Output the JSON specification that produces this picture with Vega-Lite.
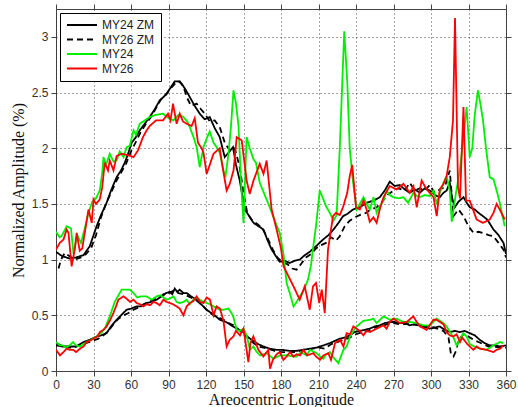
{
"$schema": "https://vega.github.io/schema/vega-lite/v6.json",
"width": 450, "height": 362,
"autosize": {"type": "none"},
"padding": {"left": 56, "top": 9, "right": 12, "bottom": 36},
"background": "white",
"config": {"view": {"stroke": "#444", "strokeWidth": 1}},
"datasets": {
"d": [
{"s":"MY24 ZM","b":"u","x":0,"y":1.07},{"s":"MY24 ZM","b":"u","x":5,"y":1.03},{"s":"MY24 ZM","b":"u","x":11,"y":1.01},{"s":"MY24 ZM","b":"u","x":16,"y":1.02},{"s":"MY24 ZM","b":"u","x":22,"y":1.04},{"s":"MY24 ZM","b":"u","x":27,"y":1.12},{"s":"MY24 ZM","b":"u","x":32.5,"y":1.3},{"s":"MY24 ZM","b":"u","x":36,"y":1.4},{"s":"MY24 ZM","b":"u","x":40.5,"y":1.51},{"s":"MY24 ZM","b":"u","x":44,"y":1.62},{"s":"MY24 ZM","b":"u","x":48.5,"y":1.74},{"s":"MY24 ZM","b":"u","x":52,"y":1.8},{"s":"MY24 ZM","b":"u","x":55,"y":1.87},{"s":"MY24 ZM","b":"u","x":58,"y":1.96},{"s":"MY24 ZM","b":"u","x":60.5,"y":2.05},{"s":"MY24 ZM","b":"u","x":64,"y":2.1},{"s":"MY24 ZM","b":"u","x":67,"y":2.16},{"s":"MY24 ZM","b":"u","x":71,"y":2.22},{"s":"MY24 ZM","b":"u","x":75,"y":2.28},{"s":"MY24 ZM","b":"u","x":79,"y":2.35},{"s":"MY24 ZM","b":"u","x":83,"y":2.43},{"s":"MY24 ZM","b":"u","x":86,"y":2.46},{"s":"MY24 ZM","b":"u","x":88.5,"y":2.49},{"s":"MY24 ZM","b":"u","x":92,"y":2.55},{"s":"MY24 ZM","b":"u","x":95,"y":2.6},{"s":"MY24 ZM","b":"u","x":98,"y":2.6},{"s":"MY24 ZM","b":"u","x":100.5,"y":2.58},{"s":"MY24 ZM","b":"u","x":104,"y":2.52},{"s":"MY24 ZM","b":"u","x":107,"y":2.46},{"s":"MY24 ZM","b":"u","x":111,"y":2.38},{"s":"MY24 ZM","b":"u","x":115,"y":2.31},{"s":"MY24 ZM","b":"u","x":119,"y":2.26},{"s":"MY24 ZM","b":"u","x":123,"y":2.28},{"s":"MY24 ZM","b":"u","x":127,"y":2.18},{"s":"MY24 ZM","b":"u","x":131,"y":2.1},{"s":"MY24 ZM","b":"u","x":135,"y":1.92},{"s":"MY24 ZM","b":"u","x":138,"y":1.96},{"s":"MY24 ZM","b":"u","x":141.6,"y":2.01},{"s":"MY24 ZM","b":"u","x":144,"y":1.85},{"s":"MY24 ZM","b":"u","x":147,"y":1.71},{"s":"MY24 ZM","b":"u","x":151,"y":1.45},{"s":"MY24 ZM","b":"u","x":154,"y":1.4},{"s":"MY24 ZM","b":"u","x":158,"y":1.33},{"s":"MY24 ZM","b":"u","x":162,"y":1.3},{"s":"MY24 ZM","b":"u","x":166,"y":1.27},{"s":"MY24 ZM","b":"u","x":169,"y":1.18},{"s":"MY24 ZM","b":"u","x":172.5,"y":1.09},{"s":"MY24 ZM","b":"u","x":176,"y":1.03},{"s":"MY24 ZM","b":"u","x":179,"y":0.98},{"s":"MY24 ZM","b":"u","x":183,"y":0.99},{"s":"MY24 ZM","b":"u","x":187,"y":0.97},{"s":"MY24 ZM","b":"u","x":191,"y":0.99},{"s":"MY24 ZM","b":"u","x":195,"y":1.0},{"s":"MY24 ZM","b":"u","x":199,"y":1.04},{"s":"MY24 ZM","b":"u","x":203,"y":1.07},{"s":"MY24 ZM","b":"u","x":208,"y":1.12},{"s":"MY24 ZM","b":"u","x":213.6,"y":1.18},{"s":"MY24 ZM","b":"u","x":218,"y":1.22},{"s":"MY24 ZM","b":"u","x":222,"y":1.27},{"s":"MY24 ZM","b":"u","x":226,"y":1.33},{"s":"MY24 ZM","b":"u","x":229.6,"y":1.39},{"s":"MY24 ZM","b":"u","x":233,"y":1.41},{"s":"MY24 ZM","b":"u","x":237.6,"y":1.45},{"s":"MY24 ZM","b":"u","x":243,"y":1.47},{"s":"MY24 ZM","b":"u","x":248.5,"y":1.51},{"s":"MY24 ZM","b":"u","x":254,"y":1.53},{"s":"MY24 ZM","b":"u","x":259,"y":1.56},{"s":"MY24 ZM","b":"u","x":263,"y":1.62},{"s":"MY24 ZM","b":"u","x":267,"y":1.7},{"s":"MY24 ZM","b":"u","x":271,"y":1.66},{"s":"MY24 ZM","b":"u","x":275,"y":1.67},{"s":"MY24 ZM","b":"u","x":279,"y":1.63},{"s":"MY24 ZM","b":"u","x":283,"y":1.6},{"s":"MY24 ZM","b":"u","x":287,"y":1.63},{"s":"MY24 ZM","b":"u","x":291,"y":1.6},{"s":"MY24 ZM","b":"u","x":295,"y":1.64},{"s":"MY24 ZM","b":"u","x":299,"y":1.62},{"s":"MY24 ZM","b":"u","x":303,"y":1.58},{"s":"MY24 ZM","b":"u","x":307,"y":1.56},{"s":"MY24 ZM","b":"u","x":310,"y":1.6},{"s":"MY24 ZM","b":"u","x":312.5,"y":1.62},{"s":"MY24 ZM","b":"u","x":315,"y":1.69},{"s":"MY24 ZM","b":"u","x":317,"y":1.55},{"s":"MY24 ZM","b":"u","x":319,"y":1.47},{"s":"MY24 ZM","b":"u","x":322,"y":1.52},{"s":"MY24 ZM","b":"u","x":326,"y":1.56},{"s":"MY24 ZM","b":"u","x":328,"y":1.52},{"s":"MY24 ZM","b":"u","x":331,"y":1.47},{"s":"MY24 ZM","b":"u","x":335,"y":1.45},{"s":"MY24 ZM","b":"u","x":338,"y":1.42},{"s":"MY24 ZM","b":"u","x":341.6,"y":1.39},{"s":"MY24 ZM","b":"u","x":345,"y":1.36},{"s":"MY24 ZM","b":"u","x":350,"y":1.27},{"s":"MY24 ZM","b":"u","x":354,"y":1.22},{"s":"MY24 ZM","b":"u","x":358,"y":1.15},{"s":"MY24 ZM","b":"u","x":360,"y":1.05},

{"s":"MY24 ZM","b":"l","x":0,"y":0.23},{"s":"MY24 ZM","b":"l","x":5,"y":0.22},{"s":"MY24 ZM","b":"l","x":11,"y":0.22},{"s":"MY24 ZM","b":"l","x":16,"y":0.22},{"s":"MY24 ZM","b":"l","x":22,"y":0.26},{"s":"MY24 ZM","b":"l","x":27,"y":0.28},{"s":"MY24 ZM","b":"l","x":32.5,"y":0.31},{"s":"MY24 ZM","b":"l","x":36,"y":0.32},{"s":"MY24 ZM","b":"l","x":40.5,"y":0.34},{"s":"MY24 ZM","b":"l","x":44,"y":0.4},{"s":"MY24 ZM","b":"l","x":48.5,"y":0.46},{"s":"MY24 ZM","b":"l","x":52,"y":0.5},{"s":"MY24 ZM","b":"l","x":56.5,"y":0.55},{"s":"MY24 ZM","b":"l","x":60,"y":0.56},{"s":"MY24 ZM","b":"l","x":64.5,"y":0.58},{"s":"MY24 ZM","b":"l","x":68,"y":0.58},{"s":"MY24 ZM","b":"l","x":72.5,"y":0.61},{"s":"MY24 ZM","b":"l","x":76,"y":0.62},{"s":"MY24 ZM","b":"l","x":80.5,"y":0.64},{"s":"MY24 ZM","b":"l","x":83,"y":0.66},{"s":"MY24 ZM","b":"l","x":86,"y":0.68},{"s":"MY24 ZM","b":"l","x":88,"y":0.7},{"s":"MY24 ZM","b":"l","x":91,"y":0.71},{"s":"MY24 ZM","b":"l","x":93,"y":0.69},{"s":"MY24 ZM","b":"l","x":95,"y":0.74},{"s":"MY24 ZM","b":"l","x":97,"y":0.71},{"s":"MY24 ZM","b":"l","x":99,"y":0.73},{"s":"MY24 ZM","b":"l","x":102,"y":0.7},{"s":"MY24 ZM","b":"l","x":104.6,"y":0.7},{"s":"MY24 ZM","b":"l","x":108,"y":0.67},{"s":"MY24 ZM","b":"l","x":112.5,"y":0.64},{"s":"MY24 ZM","b":"l","x":116,"y":0.6},{"s":"MY24 ZM","b":"l","x":120.5,"y":0.55},{"s":"MY24 ZM","b":"l","x":123,"y":0.53},{"s":"MY24 ZM","b":"l","x":127,"y":0.5},{"s":"MY24 ZM","b":"l","x":131,"y":0.46},{"s":"MY24 ZM","b":"l","x":136,"y":0.44},{"s":"MY24 ZM","b":"l","x":141.6,"y":0.4},{"s":"MY24 ZM","b":"l","x":145,"y":0.38},{"s":"MY24 ZM","b":"l","x":149.6,"y":0.35},{"s":"MY24 ZM","b":"l","x":153,"y":0.31},{"s":"MY24 ZM","b":"l","x":157.6,"y":0.27},{"s":"MY24 ZM","b":"l","x":162,"y":0.24},{"s":"MY24 ZM","b":"l","x":166,"y":0.22},{"s":"MY24 ZM","b":"l","x":171,"y":0.2},{"s":"MY24 ZM","b":"l","x":176.5,"y":0.19},{"s":"MY24 ZM","b":"l","x":181,"y":0.19},{"s":"MY24 ZM","b":"l","x":187,"y":0.18},{"s":"MY24 ZM","b":"l","x":192,"y":0.18},{"s":"MY24 ZM","b":"l","x":197.6,"y":0.19},{"s":"MY24 ZM","b":"l","x":203,"y":0.2},{"s":"MY24 ZM","b":"l","x":208.6,"y":0.21},{"s":"MY24 ZM","b":"l","x":214,"y":0.23},{"s":"MY24 ZM","b":"l","x":219,"y":0.25},{"s":"MY24 ZM","b":"l","x":223,"y":0.27},{"s":"MY24 ZM","b":"l","x":227,"y":0.29},{"s":"MY24 ZM","b":"l","x":231,"y":0.3},{"s":"MY24 ZM","b":"l","x":235,"y":0.32},{"s":"MY24 ZM","b":"l","x":239,"y":0.35},{"s":"MY24 ZM","b":"l","x":243,"y":0.36},{"s":"MY24 ZM","b":"l","x":247,"y":0.37},{"s":"MY24 ZM","b":"l","x":251,"y":0.38},{"s":"MY24 ZM","b":"l","x":255,"y":0.4},{"s":"MY24 ZM","b":"l","x":259,"y":0.41},{"s":"MY24 ZM","b":"l","x":263,"y":0.43},{"s":"MY24 ZM","b":"l","x":267,"y":0.44},{"s":"MY24 ZM","b":"l","x":271,"y":0.44},{"s":"MY24 ZM","b":"l","x":275,"y":0.43},{"s":"MY24 ZM","b":"l","x":279,"y":0.43},{"s":"MY24 ZM","b":"l","x":283,"y":0.41},{"s":"MY24 ZM","b":"l","x":287,"y":0.42},{"s":"MY24 ZM","b":"l","x":291,"y":0.41},{"s":"MY24 ZM","b":"l","x":295,"y":0.4},{"s":"MY24 ZM","b":"l","x":299,"y":0.38},{"s":"MY24 ZM","b":"l","x":303,"y":0.39},{"s":"MY24 ZM","b":"l","x":307,"y":0.4},{"s":"MY24 ZM","b":"l","x":311,"y":0.37},{"s":"MY24 ZM","b":"l","x":315,"y":0.35},{"s":"MY24 ZM","b":"l","x":319,"y":0.36},{"s":"MY24 ZM","b":"l","x":323,"y":0.35},{"s":"MY24 ZM","b":"l","x":327,"y":0.36},{"s":"MY24 ZM","b":"l","x":331,"y":0.34},{"s":"MY24 ZM","b":"l","x":335,"y":0.32},{"s":"MY24 ZM","b":"l","x":339,"y":0.28},{"s":"MY24 ZM","b":"l","x":343,"y":0.25},{"s":"MY24 ZM","b":"l","x":347,"y":0.23},{"s":"MY24 ZM","b":"l","x":351,"y":0.23},{"s":"MY24 ZM","b":"l","x":355,"y":0.22},{"s":"MY24 ZM","b":"l","x":360,"y":0.23},

{"s":"MY26 ZM","b":"u","x":2,"y":0.92},{"s":"MY26 ZM","b":"u","x":4,"y":1.0},{"s":"MY26 ZM","b":"u","x":7,"y":1.06},{"s":"MY26 ZM","b":"u","x":11,"y":1.03},{"s":"MY26 ZM","b":"u","x":15,"y":1.0},{"s":"MY26 ZM","b":"u","x":20,"y":1.02},{"s":"MY26 ZM","b":"u","x":24,"y":1.05},{"s":"MY26 ZM","b":"u","x":28,"y":1.1},{"s":"MY26 ZM","b":"u","x":32,"y":1.22},{"s":"MY26 ZM","b":"u","x":36,"y":1.38},{"s":"MY26 ZM","b":"u","x":40,"y":1.5},{"s":"MY26 ZM","b":"u","x":44,"y":1.6},{"s":"MY26 ZM","b":"u","x":48,"y":1.7},{"s":"MY26 ZM","b":"u","x":52,"y":1.78},{"s":"MY26 ZM","b":"u","x":56,"y":1.86},{"s":"MY26 ZM","b":"u","x":60,"y":1.97},{"s":"MY26 ZM","b":"u","x":64,"y":2.06},{"s":"MY26 ZM","b":"u","x":68,"y":2.15},{"s":"MY26 ZM","b":"u","x":72,"y":2.22},{"s":"MY26 ZM","b":"u","x":76,"y":2.28},{"s":"MY26 ZM","b":"u","x":80,"y":2.36},{"s":"MY26 ZM","b":"u","x":84,"y":2.44},{"s":"MY26 ZM","b":"u","x":88,"y":2.48},{"s":"MY26 ZM","b":"u","x":92,"y":2.54},{"s":"MY26 ZM","b":"u","x":96,"y":2.59},{"s":"MY26 ZM","b":"u","x":99,"y":2.6},{"s":"MY26 ZM","b":"u","x":102,"y":2.55},{"s":"MY26 ZM","b":"u","x":105,"y":2.45},{"s":"MY26 ZM","b":"u","x":108,"y":2.38},{"s":"MY26 ZM","b":"u","x":112.5,"y":2.4},{"s":"MY26 ZM","b":"u","x":116,"y":2.35},{"s":"MY26 ZM","b":"u","x":119,"y":2.31},{"s":"MY26 ZM","b":"u","x":123,"y":2.24},{"s":"MY26 ZM","b":"u","x":127,"y":2.25},{"s":"MY26 ZM","b":"u","x":131,"y":2.19},{"s":"MY26 ZM","b":"u","x":135,"y":2.05},{"s":"MY26 ZM","b":"u","x":139,"y":1.98},{"s":"MY26 ZM","b":"u","x":143,"y":2.0},{"s":"MY26 ZM","b":"u","x":147,"y":1.83},{"s":"MY26 ZM","b":"u","x":150,"y":1.6},{"s":"MY26 ZM","b":"u","x":153,"y":1.42},{"s":"MY26 ZM","b":"u","x":157,"y":1.35},{"s":"MY26 ZM","b":"u","x":161,"y":1.32},{"s":"MY26 ZM","b":"u","x":165,"y":1.28},{"s":"MY26 ZM","b":"u","x":169,"y":1.2},{"s":"MY26 ZM","b":"u","x":173,"y":1.1},{"s":"MY26 ZM","b":"u","x":177,"y":1.02},{"s":"MY26 ZM","b":"u","x":181,"y":0.98},{"s":"MY26 ZM","b":"u","x":185,"y":0.96},{"s":"MY26 ZM","b":"u","x":189,"y":0.92},{"s":"MY26 ZM","b":"u","x":192.5,"y":0.91},{"s":"MY26 ZM","b":"u","x":196,"y":0.96},{"s":"MY26 ZM","b":"u","x":200,"y":1.02},{"s":"MY26 ZM","b":"u","x":204,"y":1.05},{"s":"MY26 ZM","b":"u","x":208,"y":1.1},{"s":"MY26 ZM","b":"u","x":212,"y":1.13},{"s":"MY26 ZM","b":"u","x":216,"y":1.15},{"s":"MY26 ZM","b":"u","x":220,"y":1.2},{"s":"MY26 ZM","b":"u","x":224,"y":1.17},{"s":"MY26 ZM","b":"u","x":227,"y":1.21},{"s":"MY26 ZM","b":"u","x":231,"y":1.3},{"s":"MY26 ZM","b":"u","x":235,"y":1.35},{"s":"MY26 ZM","b":"u","x":239,"y":1.38},{"s":"MY26 ZM","b":"u","x":243,"y":1.4},{"s":"MY26 ZM","b":"u","x":248,"y":1.42},{"s":"MY26 ZM","b":"u","x":252,"y":1.45},{"s":"MY26 ZM","b":"u","x":256.5,"y":1.47},{"s":"MY26 ZM","b":"u","x":261,"y":1.52},{"s":"MY26 ZM","b":"u","x":265,"y":1.58},{"s":"MY26 ZM","b":"u","x":270,"y":1.62},{"s":"MY26 ZM","b":"u","x":274,"y":1.64},{"s":"MY26 ZM","b":"u","x":279,"y":1.62},{"s":"MY26 ZM","b":"u","x":283,"y":1.69},{"s":"MY26 ZM","b":"u","x":287,"y":1.62},{"s":"MY26 ZM","b":"u","x":291,"y":1.64},{"s":"MY26 ZM","b":"u","x":295,"y":1.62},{"s":"MY26 ZM","b":"u","x":299,"y":1.67},{"s":"MY26 ZM","b":"u","x":303,"y":1.6},{"s":"MY26 ZM","b":"u","x":307,"y":1.63},{"s":"MY26 ZM","b":"u","x":311,"y":1.65},{"s":"MY26 ZM","b":"u","x":315,"y":1.8},{"s":"MY26 ZM","b":"u","x":318,"y":1.39},{"s":"MY26 ZM","b":"u","x":322,"y":1.45},{"s":"MY26 ZM","b":"u","x":326,"y":1.39},{"s":"MY26 ZM","b":"u","x":330,"y":1.3},{"s":"MY26 ZM","b":"u","x":334,"y":1.24},{"s":"MY26 ZM","b":"u","x":338,"y":1.25},{"s":"MY26 ZM","b":"u","x":341.6,"y":1.24},{"s":"MY26 ZM","b":"u","x":346,"y":1.22},{"s":"MY26 ZM","b":"u","x":350,"y":1.21},{"s":"MY26 ZM","b":"u","x":354,"y":1.15},{"s":"MY26 ZM","b":"u","x":358,"y":1.09},{"s":"MY26 ZM","b":"u","x":360,"y":1.02},

{"s":"MY26 ZM","b":"l","x":0,"y":0.25},{"s":"MY26 ZM","b":"l","x":4,"y":0.23},{"s":"MY26 ZM","b":"l","x":9,"y":0.21},{"s":"MY26 ZM","b":"l","x":14,"y":0.21},{"s":"MY26 ZM","b":"l","x":19,"y":0.23},{"s":"MY26 ZM","b":"l","x":24,"y":0.25},{"s":"MY26 ZM","b":"l","x":29,"y":0.27},{"s":"MY26 ZM","b":"l","x":34,"y":0.29},{"s":"MY26 ZM","b":"l","x":38,"y":0.32},{"s":"MY26 ZM","b":"l","x":42,"y":0.36},{"s":"MY26 ZM","b":"l","x":46,"y":0.42},{"s":"MY26 ZM","b":"l","x":50,"y":0.47},{"s":"MY26 ZM","b":"l","x":54,"y":0.5},{"s":"MY26 ZM","b":"l","x":58,"y":0.52},{"s":"MY26 ZM","b":"l","x":62,"y":0.55},{"s":"MY26 ZM","b":"l","x":66,"y":0.57},{"s":"MY26 ZM","b":"l","x":70,"y":0.6},{"s":"MY26 ZM","b":"l","x":74,"y":0.62},{"s":"MY26 ZM","b":"l","x":78,"y":0.64},{"s":"MY26 ZM","b":"l","x":82,"y":0.65},{"s":"MY26 ZM","b":"l","x":86,"y":0.69},{"s":"MY26 ZM","b":"l","x":90,"y":0.7},{"s":"MY26 ZM","b":"l","x":94,"y":0.72},{"s":"MY26 ZM","b":"l","x":98,"y":0.7},{"s":"MY26 ZM","b":"l","x":102,"y":0.69},{"s":"MY26 ZM","b":"l","x":106,"y":0.67},{"s":"MY26 ZM","b":"l","x":110,"y":0.65},{"s":"MY26 ZM","b":"l","x":114,"y":0.62},{"s":"MY26 ZM","b":"l","x":118,"y":0.58},{"s":"MY26 ZM","b":"l","x":122,"y":0.53},{"s":"MY26 ZM","b":"l","x":126,"y":0.5},{"s":"MY26 ZM","b":"l","x":130,"y":0.48},{"s":"MY26 ZM","b":"l","x":134,"y":0.46},{"s":"MY26 ZM","b":"l","x":138,"y":0.43},{"s":"MY26 ZM","b":"l","x":142,"y":0.41},{"s":"MY26 ZM","b":"l","x":146,"y":0.37},{"s":"MY26 ZM","b":"l","x":150,"y":0.33},{"s":"MY26 ZM","b":"l","x":154,"y":0.29},{"s":"MY26 ZM","b":"l","x":158,"y":0.25},{"s":"MY26 ZM","b":"l","x":162,"y":0.22},{"s":"MY26 ZM","b":"l","x":166,"y":0.21},{"s":"MY26 ZM","b":"l","x":170,"y":0.2},{"s":"MY26 ZM","b":"l","x":175,"y":0.18},{"s":"MY26 ZM","b":"l","x":180,"y":0.17},{"s":"MY26 ZM","b":"l","x":185,"y":0.17},{"s":"MY26 ZM","b":"l","x":190,"y":0.17},{"s":"MY26 ZM","b":"l","x":195,"y":0.18},{"s":"MY26 ZM","b":"l","x":200,"y":0.19},{"s":"MY26 ZM","b":"l","x":205,"y":0.2},{"s":"MY26 ZM","b":"l","x":210,"y":0.21},{"s":"MY26 ZM","b":"l","x":215,"y":0.2},{"s":"MY26 ZM","b":"l","x":220,"y":0.24},{"s":"MY26 ZM","b":"l","x":225,"y":0.26},{"s":"MY26 ZM","b":"l","x":230,"y":0.28},{"s":"MY26 ZM","b":"l","x":235,"y":0.3},{"s":"MY26 ZM","b":"l","x":240,"y":0.33},{"s":"MY26 ZM","b":"l","x":245,"y":0.35},{"s":"MY26 ZM","b":"l","x":250,"y":0.36},{"s":"MY26 ZM","b":"l","x":255,"y":0.39},{"s":"MY26 ZM","b":"l","x":260,"y":0.4},{"s":"MY26 ZM","b":"l","x":265,"y":0.42},{"s":"MY26 ZM","b":"l","x":270,"y":0.43},{"s":"MY26 ZM","b":"l","x":275,"y":0.42},{"s":"MY26 ZM","b":"l","x":280,"y":0.42},{"s":"MY26 ZM","b":"l","x":285,"y":0.42},{"s":"MY26 ZM","b":"l","x":290,"y":0.41},{"s":"MY26 ZM","b":"l","x":295,"y":0.39},{"s":"MY26 ZM","b":"l","x":300,"y":0.4},{"s":"MY26 ZM","b":"l","x":305,"y":0.38},{"s":"MY26 ZM","b":"l","x":310,"y":0.36},{"s":"MY26 ZM","b":"l","x":314,"y":0.3},{"s":"MY26 ZM","b":"l","x":316,"y":0.15},{"s":"MY26 ZM","b":"l","x":318,"y":0.13},{"s":"MY26 ZM","b":"l","x":320,"y":0.18},{"s":"MY26 ZM","b":"l","x":322,"y":0.28},{"s":"MY26 ZM","b":"l","x":326,"y":0.33},{"s":"MY26 ZM","b":"l","x":330,"y":0.31},{"s":"MY26 ZM","b":"l","x":334,"y":0.28},{"s":"MY26 ZM","b":"l","x":338,"y":0.26},{"s":"MY26 ZM","b":"l","x":342,"y":0.24},{"s":"MY26 ZM","b":"l","x":346,"y":0.22},{"s":"MY26 ZM","b":"l","x":350,"y":0.22},{"s":"MY26 ZM","b":"l","x":355,"y":0.21},{"s":"MY26 ZM","b":"l","x":360,"y":0.21},

{"s":"MY24","b":"u","x":0,"y":1.25},{"s":"MY24","b":"u","x":3,"y":1.2},{"s":"MY24","b":"u","x":5,"y":1.22},{"s":"MY24","b":"u","x":8.5,"y":1.3},{"s":"MY24","b":"u","x":12,"y":1.28},{"s":"MY24","b":"u","x":14,"y":1.05},{"s":"MY24","b":"u","x":17,"y":1.22},{"s":"MY24","b":"u","x":20,"y":1.15},{"s":"MY24","b":"u","x":23,"y":1.28},{"s":"MY24","b":"u","x":26,"y":1.42},{"s":"MY24","b":"u","x":29,"y":1.52},{"s":"MY24","b":"u","x":32,"y":1.55},{"s":"MY24","b":"u","x":35,"y":1.62},{"s":"MY24","b":"u","x":37,"y":1.78},{"s":"MY24","b":"u","x":38,"y":1.92},{"s":"MY24","b":"u","x":40,"y":1.85},{"s":"MY24","b":"u","x":43,"y":1.95},{"s":"MY24","b":"u","x":46,"y":1.88},{"s":"MY24","b":"u","x":48.5,"y":1.89},{"s":"MY24","b":"u","x":51,"y":1.97},{"s":"MY24","b":"u","x":54,"y":1.92},{"s":"MY24","b":"u","x":56.5,"y":2.01},{"s":"MY24","b":"u","x":59,"y":2.02},{"s":"MY24","b":"u","x":62,"y":2.16},{"s":"MY24","b":"u","x":64,"y":2.12},{"s":"MY24","b":"u","x":67,"y":2.22},{"s":"MY24","b":"u","x":71,"y":2.25},{"s":"MY24","b":"u","x":75,"y":2.28},{"s":"MY24","b":"u","x":80,"y":2.3},{"s":"MY24","b":"u","x":85.6,"y":2.31},{"s":"MY24","b":"u","x":90,"y":2.27},{"s":"MY24","b":"u","x":94,"y":2.25},{"s":"MY24","b":"u","x":98,"y":2.3},{"s":"MY24","b":"u","x":102,"y":2.28},{"s":"MY24","b":"u","x":105,"y":2.24},{"s":"MY24","b":"u","x":107,"y":2.19},{"s":"MY24","b":"u","x":110,"y":2.1},{"s":"MY24","b":"u","x":112.5,"y":2.01},{"s":"MY24","b":"u","x":115,"y":1.83},{"s":"MY24","b":"u","x":118,"y":2.01},{"s":"MY24","b":"u","x":121,"y":2.1},{"s":"MY24","b":"u","x":123,"y":2.15},{"s":"MY24","b":"u","x":126,"y":2.05},{"s":"MY24","b":"u","x":128.5,"y":2.01},{"s":"MY24","b":"u","x":131,"y":1.96},{"s":"MY24","b":"u","x":134,"y":1.8},{"s":"MY24","b":"u","x":135.5,"y":1.74},{"s":"MY24","b":"u","x":138,"y":1.95},{"s":"MY24","b":"u","x":140,"y":2.2},{"s":"MY24","b":"u","x":142,"y":2.52},{"s":"MY24","b":"u","x":144,"y":2.4},{"s":"MY24","b":"u","x":146,"y":2.2},{"s":"MY24","b":"u","x":148,"y":1.7},{"s":"MY24","b":"u","x":150,"y":1.33},{"s":"MY24","b":"u","x":152.5,"y":2.1},{"s":"MY24","b":"u","x":155,"y":2.0},{"s":"MY24","b":"u","x":158,"y":1.9},{"s":"MY24","b":"u","x":160,"y":1.87},{"s":"MY24","b":"u","x":163,"y":1.69},{"s":"MY24","b":"u","x":167,"y":1.58},{"s":"MY24","b":"u","x":171,"y":1.47},{"s":"MY24","b":"u","x":175,"y":1.35},{"s":"MY24","b":"u","x":179,"y":1.24},{"s":"MY24","b":"u","x":182,"y":1.05},{"s":"MY24","b":"u","x":184.5,"y":0.79},{"s":"MY24","b":"u","x":187,"y":0.7},{"s":"MY24","b":"u","x":190,"y":0.58},{"s":"MY24","b":"u","x":192.5,"y":0.62},{"s":"MY24","b":"u","x":195,"y":0.67},{"s":"MY24","b":"u","x":198,"y":0.72},{"s":"MY24","b":"u","x":201.6,"y":0.82},{"s":"MY24","b":"u","x":204,"y":0.95},{"s":"MY24","b":"u","x":205.6,"y":1.1},{"s":"MY24","b":"u","x":208,"y":1.3},{"s":"MY24","b":"u","x":211,"y":1.62},{"s":"MY24","b":"u","x":213.6,"y":1.55},{"s":"MY24","b":"u","x":216,"y":1.48},{"s":"MY24","b":"u","x":219,"y":1.42},{"s":"MY24","b":"u","x":222,"y":1.35},{"s":"MY24","b":"u","x":224.5,"y":1.4},{"s":"MY24","b":"u","x":227,"y":2.0},{"s":"MY24","b":"u","x":230.6,"y":3.05},{"s":"MY24","b":"u","x":233,"y":2.6},{"s":"MY24","b":"u","x":235,"y":2.0},{"s":"MY24","b":"u","x":237.6,"y":1.7},{"s":"MY24","b":"u","x":240.5,"y":1.45},{"s":"MY24","b":"u","x":243,"y":1.5},{"s":"MY24","b":"u","x":246,"y":1.56},{"s":"MY24","b":"u","x":248.5,"y":1.5},{"s":"MY24","b":"u","x":251,"y":1.45},{"s":"MY24","b":"u","x":254,"y":1.56},{"s":"MY24","b":"u","x":256.5,"y":1.42},{"s":"MY24","b":"u","x":259,"y":1.48},{"s":"MY24","b":"u","x":262,"y":1.53},{"s":"MY24","b":"u","x":264.5,"y":1.62},{"s":"MY24","b":"u","x":267,"y":1.58},{"s":"MY24","b":"u","x":270,"y":1.56},{"s":"MY24","b":"u","x":274,"y":1.55},{"s":"MY24","b":"u","x":278,"y":1.56},{"s":"MY24","b":"u","x":281.6,"y":1.51},{"s":"MY24","b":"u","x":286,"y":1.6},{"s":"MY24","b":"u","x":289,"y":1.57},{"s":"MY24","b":"u","x":291,"y":1.56},{"s":"MY24","b":"u","x":295,"y":1.58},{"s":"MY24","b":"u","x":299,"y":1.57},{"s":"MY24","b":"u","x":302,"y":1.62},{"s":"MY24","b":"u","x":304.6,"y":1.5},{"s":"MY24","b":"u","x":307,"y":1.6},{"s":"MY24","b":"u","x":310,"y":1.69},{"s":"MY24","b":"u","x":312.5,"y":1.75},{"s":"MY24","b":"u","x":315,"y":1.62},{"s":"MY24","b":"u","x":316.6,"y":1.34},{"s":"MY24","b":"u","x":318,"y":1.45},{"s":"MY24","b":"u","x":320,"y":1.6},{"s":"MY24","b":"u","x":323,"y":1.8},{"s":"MY24","b":"u","x":326,"y":2.1},{"s":"MY24","b":"u","x":328.5,"y":2.37},{"s":"MY24","b":"u","x":331,"y":1.92},{"s":"MY24","b":"u","x":333,"y":2.0},{"s":"MY24","b":"u","x":335,"y":2.3},{"s":"MY24","b":"u","x":337.6,"y":2.52},{"s":"MY24","b":"u","x":339.5,"y":2.4},{"s":"MY24","b":"u","x":341.6,"y":2.25},{"s":"MY24","b":"u","x":344,"y":2.0},{"s":"MY24","b":"u","x":347,"y":1.74},{"s":"MY24","b":"u","x":350,"y":1.72},{"s":"MY24","b":"u","x":353,"y":1.6},{"s":"MY24","b":"u","x":355,"y":1.51},{"s":"MY24","b":"u","x":357,"y":1.4},{"s":"MY24","b":"u","x":359,"y":1.3},

{"s":"MY24","b":"l","x":0,"y":0.26},{"s":"MY24","b":"l","x":3,"y":0.23},{"s":"MY24","b":"l","x":5.6,"y":0.23},{"s":"MY24","b":"l","x":8,"y":0.21},{"s":"MY24","b":"l","x":11,"y":0.23},{"s":"MY24","b":"l","x":13.6,"y":0.26},{"s":"MY24","b":"l","x":16,"y":0.23},{"s":"MY24","b":"l","x":19,"y":0.22},{"s":"MY24","b":"l","x":24.5,"y":0.26},{"s":"MY24","b":"l","x":28,"y":0.28},{"s":"MY24","b":"l","x":32.5,"y":0.31},{"s":"MY24","b":"l","x":36,"y":0.34},{"s":"MY24","b":"l","x":39,"y":0.38},{"s":"MY24","b":"l","x":43,"y":0.49},{"s":"MY24","b":"l","x":47,"y":0.62},{"s":"MY24","b":"l","x":50,"y":0.68},{"s":"MY24","b":"l","x":52.5,"y":0.73},{"s":"MY24","b":"l","x":56.5,"y":0.73},{"s":"MY24","b":"l","x":59,"y":0.73},{"s":"MY24","b":"l","x":62,"y":0.7},{"s":"MY24","b":"l","x":65,"y":0.66},{"s":"MY24","b":"l","x":68.5,"y":0.67},{"s":"MY24","b":"l","x":72.5,"y":0.67},{"s":"MY24","b":"l","x":76.5,"y":0.64},{"s":"MY24","b":"l","x":80.5,"y":0.67},{"s":"MY24","b":"l","x":83.5,"y":0.68},{"s":"MY24","b":"l","x":86,"y":0.66},{"s":"MY24","b":"l","x":88.5,"y":0.64},{"s":"MY24","b":"l","x":91,"y":0.65},{"s":"MY24","b":"l","x":94,"y":0.67},{"s":"MY24","b":"l","x":96.5,"y":0.62},{"s":"MY24","b":"l","x":99,"y":0.61},{"s":"MY24","b":"l","x":102,"y":0.62},{"s":"MY24","b":"l","x":104.5,"y":0.64},{"s":"MY24","b":"l","x":107,"y":0.6},{"s":"MY24","b":"l","x":110,"y":0.64},{"s":"MY24","b":"l","x":112.5,"y":0.66},{"s":"MY24","b":"l","x":115,"y":0.64},{"s":"MY24","b":"l","x":118,"y":0.62},{"s":"MY24","b":"l","x":120.5,"y":0.61},{"s":"MY24","b":"l","x":123,"y":0.6},{"s":"MY24","b":"l","x":126,"y":0.58},{"s":"MY24","b":"l","x":131,"y":0.55},{"s":"MY24","b":"l","x":134,"y":0.55},{"s":"MY24","b":"l","x":137.9,"y":0.56},{"s":"MY24","b":"l","x":140.5,"y":0.52},{"s":"MY24","b":"l","x":142,"y":0.48},{"s":"MY24","b":"l","x":144.5,"y":0.37},{"s":"MY24","b":"l","x":147,"y":0.36},{"s":"MY24","b":"l","x":150,"y":0.38},{"s":"MY24","b":"l","x":152.5,"y":0.32},{"s":"MY24","b":"l","x":155.2,"y":0.19},{"s":"MY24","b":"l","x":157.9,"y":0.22},{"s":"MY24","b":"l","x":160,"y":0.18},{"s":"MY24","b":"l","x":163.2,"y":0.14},{"s":"MY24","b":"l","x":168.5,"y":0.16},{"s":"MY24","b":"l","x":173.9,"y":0.11},{"s":"MY24","b":"l","x":179.2,"y":0.14},{"s":"MY24","b":"l","x":184.5,"y":0.14},{"s":"MY24","b":"l","x":189.9,"y":0.13},{"s":"MY24","b":"l","x":192.5,"y":0.13},{"s":"MY24","b":"l","x":196,"y":0.17},{"s":"MY24","b":"l","x":200.5,"y":0.14},{"s":"MY24","b":"l","x":203.2,"y":0.19},{"s":"MY24","b":"l","x":208.5,"y":0.16},{"s":"MY24","b":"l","x":211.2,"y":0.13},{"s":"MY24","b":"l","x":213.9,"y":0.11},{"s":"MY24","b":"l","x":216,"y":0.15},{"s":"MY24","b":"l","x":219.2,"y":0.17},{"s":"MY24","b":"l","x":222,"y":0.12},{"s":"MY24","b":"l","x":225.9,"y":0.07},{"s":"MY24","b":"l","x":229.9,"y":0.19},{"s":"MY24","b":"l","x":232.5,"y":0.22},{"s":"MY24","b":"l","x":235.2,"y":0.31},{"s":"MY24","b":"l","x":237.9,"y":0.36},{"s":"MY24","b":"l","x":240.5,"y":0.4},{"s":"MY24","b":"l","x":245.9,"y":0.45},{"s":"MY24","b":"l","x":251.2,"y":0.46},{"s":"MY24","b":"l","x":253.9,"y":0.47},{"s":"MY24","b":"l","x":256.5,"y":0.43},{"s":"MY24","b":"l","x":261.9,"y":0.49},{"s":"MY24","b":"l","x":267.2,"y":0.46},{"s":"MY24","b":"l","x":272.5,"y":0.47},{"s":"MY24","b":"l","x":277.9,"y":0.44},{"s":"MY24","b":"l","x":283.2,"y":0.44},{"s":"MY24","b":"l","x":288.5,"y":0.43},{"s":"MY24","b":"l","x":293.9,"y":0.41},{"s":"MY24","b":"l","x":299.2,"y":0.41},{"s":"MY24","b":"l","x":304.5,"y":0.47},{"s":"MY24","b":"l","x":309.9,"y":0.43},{"s":"MY24","b":"l","x":312.5,"y":0.4},{"s":"MY24","b":"l","x":315.2,"y":0.35},{"s":"MY24","b":"l","x":318,"y":0.3},{"s":"MY24","b":"l","x":320.5,"y":0.23},{"s":"MY24","b":"l","x":323,"y":0.28},{"s":"MY24","b":"l","x":325.9,"y":0.34},{"s":"MY24","b":"l","x":328.5,"y":0.31},{"s":"MY24","b":"l","x":331.2,"y":0.24},{"s":"MY24","b":"l","x":336.5,"y":0.21},{"s":"MY24","b":"l","x":340,"y":0.2},{"s":"MY24","b":"l","x":344.5,"y":0.19},{"s":"MY24","b":"l","x":349.9,"y":0.23},{"s":"MY24","b":"l","x":355.2,"y":0.26},{"s":"MY24","b":"l","x":357.9,"y":0.25},

{"s":"MY26","b":"u","x":0,"y":1.09},{"s":"MY26","b":"u","x":3,"y":1.15},{"s":"MY26","b":"u","x":6,"y":1.18},{"s":"MY26","b":"u","x":8.5,"y":1.27},{"s":"MY26","b":"u","x":10,"y":1.24},{"s":"MY26","b":"u","x":12.5,"y":0.94},{"s":"MY26","b":"u","x":15,"y":1.09},{"s":"MY26","b":"u","x":16.5,"y":1.24},{"s":"MY26","b":"u","x":19,"y":1.08},{"s":"MY26","b":"u","x":21,"y":1.1},{"s":"MY26","b":"u","x":23,"y":1.24},{"s":"MY26","b":"u","x":26,"y":1.45},{"s":"MY26","b":"u","x":28.6,"y":1.33},{"s":"MY26","b":"u","x":30,"y":1.54},{"s":"MY26","b":"u","x":32,"y":1.5},{"s":"MY26","b":"u","x":35,"y":1.54},{"s":"MY26","b":"u","x":37,"y":1.65},{"s":"MY26","b":"u","x":39,"y":1.87},{"s":"MY26","b":"u","x":41.6,"y":1.8},{"s":"MY26","b":"u","x":43,"y":1.89},{"s":"MY26","b":"u","x":46,"y":1.8},{"s":"MY26","b":"u","x":48.5,"y":1.93},{"s":"MY26","b":"u","x":52.5,"y":1.95},{"s":"MY26","b":"u","x":56.5,"y":1.94},{"s":"MY26","b":"u","x":60,"y":1.93},{"s":"MY26","b":"u","x":62,"y":1.92},{"s":"MY26","b":"u","x":65.6,"y":1.98},{"s":"MY26","b":"u","x":69.6,"y":2.1},{"s":"MY26","b":"u","x":72.5,"y":2.16},{"s":"MY26","b":"u","x":75,"y":2.2},{"s":"MY26","b":"u","x":80,"y":2.25},{"s":"MY26","b":"u","x":85.6,"y":2.25},{"s":"MY26","b":"u","x":89.6,"y":2.31},{"s":"MY26","b":"u","x":91.6,"y":2.25},{"s":"MY26","b":"u","x":93.6,"y":2.4},{"s":"MY26","b":"u","x":96.5,"y":2.22},{"s":"MY26","b":"u","x":99,"y":2.31},{"s":"MY26","b":"u","x":101.6,"y":2.24},{"s":"MY26","b":"u","x":104.5,"y":2.22},{"s":"MY26","b":"u","x":108.5,"y":2.2},{"s":"MY26","b":"u","x":111,"y":2.27},{"s":"MY26","b":"u","x":113.6,"y":2.05},{"s":"MY26","b":"u","x":116.5,"y":2.0},{"s":"MY26","b":"u","x":118,"y":1.96},{"s":"MY26","b":"u","x":120.5,"y":1.77},{"s":"MY26","b":"u","x":123,"y":1.85},{"s":"MY26","b":"u","x":126,"y":1.95},{"s":"MY26","b":"u","x":131,"y":2.0},{"s":"MY26","b":"u","x":133,"y":1.85},{"s":"MY26","b":"u","x":136.5,"y":1.62},{"s":"MY26","b":"u","x":139,"y":1.68},{"s":"MY26","b":"u","x":142,"y":1.8},{"s":"MY26","b":"u","x":144.6,"y":2.1},{"s":"MY26","b":"u","x":148.6,"y":2.07},{"s":"MY26","b":"u","x":152.5,"y":1.71},{"s":"MY26","b":"u","x":155,"y":1.59},{"s":"MY26","b":"u","x":158,"y":1.71},{"s":"MY26","b":"u","x":163,"y":1.86},{"s":"MY26","b":"u","x":166,"y":1.77},{"s":"MY26","b":"u","x":168.5,"y":1.89},{"s":"MY26","b":"u","x":172.5,"y":1.45},{"s":"MY26","b":"u","x":176.5,"y":1.27},{"s":"MY26","b":"u","x":180,"y":1.1},{"s":"MY26","b":"u","x":182,"y":0.94},{"s":"MY26","b":"u","x":186,"y":0.85},{"s":"MY26","b":"u","x":190,"y":0.76},{"s":"MY26","b":"u","x":195,"y":0.64},{"s":"MY26","b":"u","x":199,"y":0.76},{"s":"MY26","b":"u","x":203,"y":0.55},{"s":"MY26","b":"u","x":205.6,"y":0.76},{"s":"MY26","b":"u","x":208,"y":0.79},{"s":"MY26","b":"u","x":210.6,"y":0.61},{"s":"MY26","b":"u","x":212.6,"y":0.73},{"s":"MY26","b":"u","x":215,"y":0.52},{"s":"MY26","b":"u","x":217.6,"y":1.09},{"s":"MY26","b":"u","x":221.6,"y":1.39},{"s":"MY26","b":"u","x":224,"y":1.42},{"s":"MY26","b":"u","x":227,"y":1.4},{"s":"MY26","b":"u","x":229.6,"y":1.47},{"s":"MY26","b":"u","x":233,"y":1.6},{"s":"MY26","b":"u","x":235,"y":1.75},{"s":"MY26","b":"u","x":237,"y":1.85},{"s":"MY26","b":"u","x":240,"y":1.47},{"s":"MY26","b":"u","x":243,"y":1.45},{"s":"MY26","b":"u","x":246,"y":1.53},{"s":"MY26","b":"u","x":248.5,"y":1.45},{"s":"MY26","b":"u","x":251,"y":1.34},{"s":"MY26","b":"u","x":254,"y":1.38},{"s":"MY26","b":"u","x":256.5,"y":1.33},{"s":"MY26","b":"u","x":259,"y":1.45},{"s":"MY26","b":"u","x":262,"y":1.56},{"s":"MY26","b":"u","x":267,"y":1.66},{"s":"MY26","b":"u","x":272.5,"y":1.63},{"s":"MY26","b":"u","x":278,"y":1.68},{"s":"MY26","b":"u","x":283,"y":1.6},{"s":"MY26","b":"u","x":286,"y":1.66},{"s":"MY26","b":"u","x":288.6,"y":1.47},{"s":"MY26","b":"u","x":292.5,"y":1.71},{"s":"MY26","b":"u","x":296.6,"y":1.63},{"s":"MY26","b":"u","x":302,"y":1.56},{"s":"MY26","b":"u","x":304.6,"y":1.39},{"s":"MY26","b":"u","x":307,"y":1.63},{"s":"MY26","b":"u","x":310,"y":1.68},{"s":"MY26","b":"u","x":312.5,"y":1.75},{"s":"MY26","b":"u","x":315,"y":1.92},{"s":"MY26","b":"u","x":317.6,"y":2.25},{"s":"MY26","b":"u","x":319.2,"y":3.17},{"s":"MY26","b":"u","x":321.6,"y":1.65},{"s":"MY26","b":"u","x":323.2,"y":1.55},{"s":"MY26","b":"u","x":326,"y":2.37},{"s":"MY26","b":"u","x":328,"y":1.53},{"s":"MY26","b":"u","x":331,"y":1.53},{"s":"MY26","b":"u","x":336.5,"y":1.36},{"s":"MY26","b":"u","x":341.6,"y":1.33},{"s":"MY26","b":"u","x":347,"y":1.36},{"s":"MY26","b":"u","x":350,"y":1.42},{"s":"MY26","b":"u","x":352.5,"y":1.5},{"s":"MY26","b":"u","x":355,"y":1.45},{"s":"MY26","b":"u","x":359,"y":1.36},

{"s":"MY26","b":"l","x":0,"y":0.19},{"s":"MY26","b":"l","x":3.2,"y":0.14},{"s":"MY26","b":"l","x":6,"y":0.17},{"s":"MY26","b":"l","x":8.5,"y":0.2},{"s":"MY26","b":"l","x":11,"y":0.19},{"s":"MY26","b":"l","x":13.9,"y":0.19},{"s":"MY26","b":"l","x":16,"y":0.17},{"s":"MY26","b":"l","x":19.2,"y":0.2},{"s":"MY26","b":"l","x":22,"y":0.22},{"s":"MY26","b":"l","x":24.5,"y":0.26},{"s":"MY26","b":"l","x":27,"y":0.27},{"s":"MY26","b":"l","x":29.9,"y":0.29},{"s":"MY26","b":"l","x":33,"y":0.31},{"s":"MY26","b":"l","x":35.2,"y":0.35},{"s":"MY26","b":"l","x":38,"y":0.37},{"s":"MY26","b":"l","x":40.5,"y":0.4},{"s":"MY26","b":"l","x":43,"y":0.45},{"s":"MY26","b":"l","x":45.9,"y":0.52},{"s":"MY26","b":"l","x":48,"y":0.58},{"s":"MY26","b":"l","x":49.9,"y":0.64},{"s":"MY26","b":"l","x":53.9,"y":0.67},{"s":"MY26","b":"l","x":56.5,"y":0.65},{"s":"MY26","b":"l","x":59.2,"y":0.62},{"s":"MY26","b":"l","x":62,"y":0.64},{"s":"MY26","b":"l","x":64.5,"y":0.61},{"s":"MY26","b":"l","x":67,"y":0.6},{"s":"MY26","b":"l","x":69.9,"y":0.58},{"s":"MY26","b":"l","x":72.5,"y":0.6},{"s":"MY26","b":"l","x":75.2,"y":0.59},{"s":"MY26","b":"l","x":78,"y":0.62},{"s":"MY26","b":"l","x":80.5,"y":0.61},{"s":"MY26","b":"l","x":83,"y":0.59},{"s":"MY26","b":"l","x":85.9,"y":0.64},{"s":"MY26","b":"l","x":88.5,"y":0.62},{"s":"MY26","b":"l","x":91.2,"y":0.61},{"s":"MY26","b":"l","x":93.5,"y":0.6},{"s":"MY26","b":"l","x":96.5,"y":0.58},{"s":"MY26","b":"l","x":99,"y":0.56},{"s":"MY26","b":"l","x":101.9,"y":0.5},{"s":"MY26","b":"l","x":104.5,"y":0.58},{"s":"MY26","b":"l","x":107.2,"y":0.61},{"s":"MY26","b":"l","x":110,"y":0.63},{"s":"MY26","b":"l","x":112.5,"y":0.67},{"s":"MY26","b":"l","x":115.2,"y":0.62},{"s":"MY26","b":"l","x":117.9,"y":0.61},{"s":"MY26","b":"l","x":120.5,"y":0.66},{"s":"MY26","b":"l","x":123.2,"y":0.64},{"s":"MY26","b":"l","x":126,"y":0.5},{"s":"MY26","b":"l","x":128.5,"y":0.58},{"s":"MY26","b":"l","x":131.2,"y":0.56},{"s":"MY26","b":"l","x":134,"y":0.45},{"s":"MY26","b":"l","x":136.5,"y":0.22},{"s":"MY26","b":"l","x":139,"y":0.28},{"s":"MY26","b":"l","x":141.9,"y":0.31},{"s":"MY26","b":"l","x":144,"y":0.36},{"s":"MY26","b":"l","x":147.2,"y":0.32},{"s":"MY26","b":"l","x":150,"y":0.38},{"s":"MY26","b":"l","x":153.9,"y":0.08},{"s":"MY26","b":"l","x":155.5,"y":0.25},{"s":"MY26","b":"l","x":157.9,"y":0.31},{"s":"MY26","b":"l","x":161.9,"y":0.19},{"s":"MY26","b":"l","x":165.9,"y":0.13},{"s":"MY26","b":"l","x":169.9,"y":0.19},{"s":"MY26","b":"l","x":171.2,"y":0.02},{"s":"MY26","b":"l","x":173.5,"y":0.1},{"s":"MY26","b":"l","x":176.5,"y":0.15},{"s":"MY26","b":"l","x":179,"y":0.17},{"s":"MY26","b":"l","x":181.9,"y":0.1},{"s":"MY26","b":"l","x":184.5,"y":0.13},{"s":"MY26","b":"l","x":187.2,"y":0.17},{"s":"MY26","b":"l","x":189.9,"y":0.13},{"s":"MY26","b":"l","x":192.5,"y":0.15},{"s":"MY26","b":"l","x":195.2,"y":0.14},{"s":"MY26","b":"l","x":197.9,"y":0.19},{"s":"MY26","b":"l","x":201,"y":0.14},{"s":"MY26","b":"l","x":205.9,"y":0.16},{"s":"MY26","b":"l","x":208,"y":0.13},{"s":"MY26","b":"l","x":211.2,"y":0.1},{"s":"MY26","b":"l","x":214,"y":0.14},{"s":"MY26","b":"l","x":217.9,"y":0.16},{"s":"MY26","b":"l","x":220,"y":0.1},{"s":"MY26","b":"l","x":223.2,"y":0.25},{"s":"MY26","b":"l","x":227.2,"y":0.28},{"s":"MY26","b":"l","x":230,"y":0.22},{"s":"MY26","b":"l","x":232.5,"y":0.34},{"s":"MY26","b":"l","x":235.2,"y":0.33},{"s":"MY26","b":"l","x":237.9,"y":0.4},{"s":"MY26","b":"l","x":240.5,"y":0.38},{"s":"MY26","b":"l","x":243,"y":0.36},{"s":"MY26","b":"l","x":245.9,"y":0.32},{"s":"MY26","b":"l","x":248.5,"y":0.36},{"s":"MY26","b":"l","x":251.2,"y":0.35},{"s":"MY26","b":"l","x":256.5,"y":0.38},{"s":"MY26","b":"l","x":261.9,"y":0.41},{"s":"MY26","b":"l","x":264.5,"y":0.38},{"s":"MY26","b":"l","x":267,"y":0.44},{"s":"MY26","b":"l","x":269.9,"y":0.47},{"s":"MY26","b":"l","x":275.2,"y":0.43},{"s":"MY26","b":"l","x":280.5,"y":0.44},{"s":"MY26","b":"l","x":285.9,"y":0.49},{"s":"MY26","b":"l","x":288,"y":0.45},{"s":"MY26","b":"l","x":291.2,"y":0.4},{"s":"MY26","b":"l","x":296.5,"y":0.37},{"s":"MY26","b":"l","x":301.9,"y":0.46},{"s":"MY26","b":"l","x":304.5,"y":0.46},{"s":"MY26","b":"l","x":307.2,"y":0.44},{"s":"MY26","b":"l","x":310,"y":0.42},{"s":"MY26","b":"l","x":312.5,"y":0.35},{"s":"MY26","b":"l","x":315,"y":0.32},{"s":"MY26","b":"l","x":317.9,"y":0.31},{"s":"MY26","b":"l","x":320.5,"y":0.33},{"s":"MY26","b":"l","x":323.2,"y":0.26},{"s":"MY26","b":"l","x":325,"y":0.3},{"s":"MY26","b":"l","x":328.5,"y":0.25},{"s":"MY26","b":"l","x":331,"y":0.22},{"s":"MY26","b":"l","x":333.9,"y":0.19},{"s":"MY26","b":"l","x":336.5,"y":0.22},{"s":"MY26","b":"l","x":339.2,"y":0.2},{"s":"MY26","b":"l","x":344.5,"y":0.19},{"s":"MY26","b":"l","x":349.9,"y":0.17},{"s":"MY26","b":"l","x":352.5,"y":0.19},{"s":"MY26","b":"l","x":355.2,"y":0.2},{"s":"MY26","b":"l","x":357.9,"y":0.23}
]},
"data": {"name": "d"},
"layer": [
{"mark": {"type": "line", "strokeWidth": 1.8, "clip": true},
 "encoding": {
  "x": {"field": "x", "type": "quantitative",
        "scale": {"domain": [0, 360], "nice": false, "zero": false},
        "axis": {"orient": "bottom", "values": [0,30,60,90,120,150,180,210,240,270,300,330,360],
                 "grid": true, "gridColor": "#333", "gridDash": [1, 3], "gridWidth": 1, "gridOpacity": 0.9,
                 "domain": false, "tickColor": "#444", "tickSize": 5, "tickWidth": 1,
                 "labelFont": "Liberation Sans", "labelFontSize": 12, "labelColor": "#333", "labelPadding": 3,
                 "labelFlush": false,
                 "title": "Areocentric Longitude", "titleFont": "Liberation Serif", "titleFontSize": 16,
                 "titleFontWeight": "normal", "titleColor": "#111", "titlePadding": 1}},
  "y": {"field": "y", "type": "quantitative",
        "scale": {"domain": [0, 3.25], "nice": false, "zero": false},
        "axis": {"orient": "left", "values": [0,0.5,1,1.5,2,2.5,3], "format": "~g",
                 "grid": true, "gridColor": "#333", "gridDash": [1, 3], "gridWidth": 1, "gridOpacity": 0.9,
                 "domain": false, "tickColor": "#444", "tickSize": 5, "tickWidth": 1,
                 "labelFont": "Liberation Sans", "labelFontSize": 12, "labelColor": "#333", "labelPadding": 3,
                 "labelFlush": false,
                 "title": "Normalized Amplitude (%)", "titleFont": "Liberation Serif", "titleFontSize": 16,
                 "titleFontWeight": "normal", "titleColor": "#111",
                 "titleX": -38, "titleY": 181, "titleAngle": -90, "titleAlign": "center", "titleBaseline": "middle"}},
  "color": {"field": "s", "type": "nominal",
            "scale": {"domain": ["MY24 ZM", "MY26 ZM", "MY24", "MY26"], "range": ["#000000", "#000000", "#00ee00", "#ff0000"]},
            "legend": {"orient": "none", "legendX": 4, "legendY": 4, "title": null,
                       "strokeColor": "#000", "fillColor": "white", "padding": 6,
                       "symbolType": "stroke", "symbolSize": 900, "symbolStrokeWidth": 2, "clipHeight": 12,
                       "rowPadding": 2.5, "labelOffset": 4,
                       "labelFont": "Liberation Sans", "labelFontSize": 12, "labelColor": "#222"}},
  "strokeDash": {"field": "s", "type": "nominal",
            "scale": {"domain": ["MY24 ZM", "MY26 ZM", "MY24", "MY26"], "range": [[1, 0], [6, 4], [1, 0], [1, 0]]},
            "legend": {"orient": "none", "legendX": 4, "legendY": 4, "title": null,
                       "strokeColor": "#000", "fillColor": "white", "padding": 6,
                       "symbolType": "stroke", "symbolSize": 900, "symbolStrokeWidth": 2, "clipHeight": 12,
                       "rowPadding": 2.5, "labelOffset": 4,
                       "labelFont": "Liberation Sans", "labelFontSize": 12, "labelColor": "#222"}},
  "detail": {"field": "b", "type": "nominal"}
 }},
{"mark": {"type": "point", "opacity": 0},
 "encoding": {
  "x": {"field": "x", "type": "quantitative",
        "axis": {"orient": "top", "values": [0,30,60,90,120,150,180,210,240,270,300,330,360], "labels": false, "grid": false,
                 "domain": false, "tickColor": "#444", "tickSize": 5, "title": null}},
  "y": {"field": "y", "type": "quantitative",
        "axis": {"orient": "right", "values": [0,0.5,1,1.5,2,2.5,3], "labels": false, "grid": false,
                 "domain": false, "tickColor": "#444", "tickSize": 5, "title": null}}
 }}
]
}
